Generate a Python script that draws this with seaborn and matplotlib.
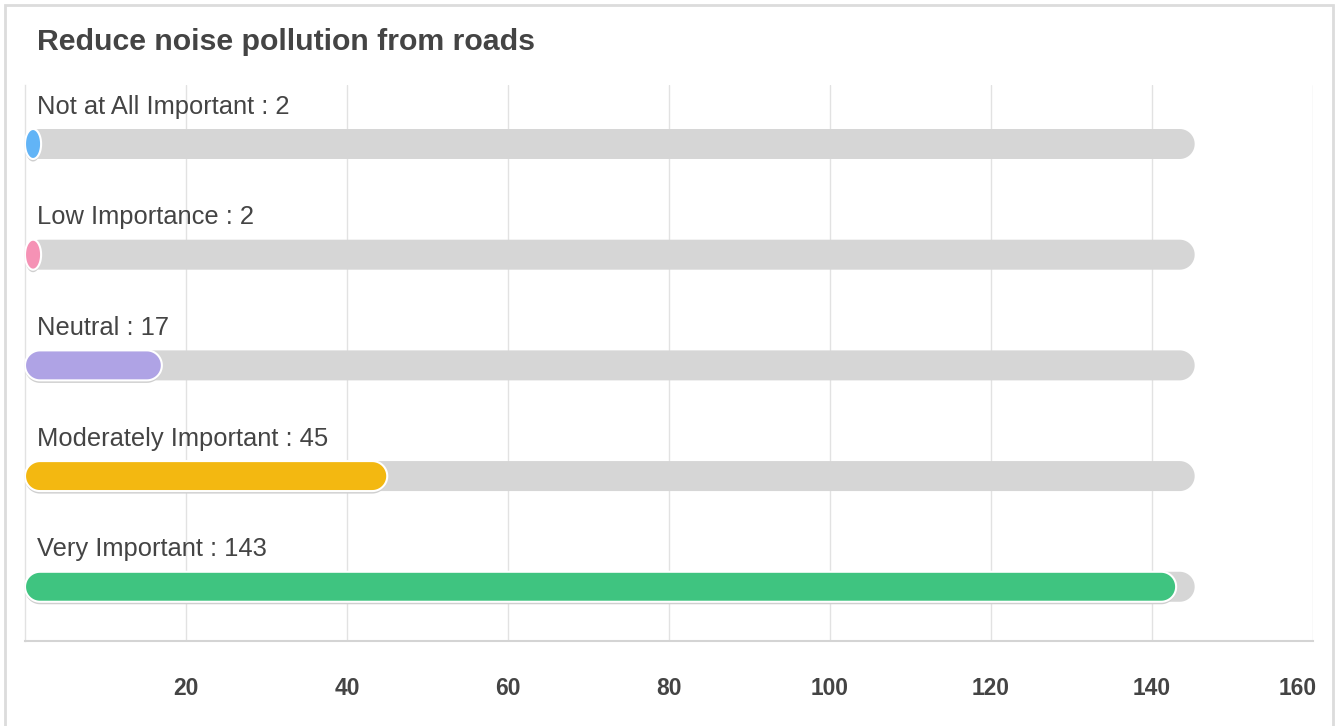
import matplotlib
matplotlib.use("Agg")
import matplotlib.pyplot as plt
import seaborn as sns
import numpy as np
import pandas as pd
from matplotlib.patches import Polygon, Rectangle
import matplotlib.transforms as mtransforms

title = "Reduce noise pollution from roads"
categories = ["Not at All Important", "Low Importance", "Neutral",
              "Moderately Important", "Very Important"]
values = [2, 2, 17, 45, 143]
track_total = [145.3, 145.3, 145.3, 145.3, 145.3]
colors = ["#62b4f6", "#f592b5", "#afa3e5", "#f3b811", "#3fc480"]
track_color = "#d6d6d6"
x_ticks = [20, 40, 60, 80, 100, 120, 140, 160]

sns.set_theme(style="white")
plt.rcParams["font.family"] = ["Liberation Sans", "DejaVu Sans"]

W, H = 1338, 726
fig = plt.figure(figsize=(W / 100, H / 100), dpi=100)
ax = fig.add_axes([25 / W, 1 - 641 / H, (1313 - 25) / W, (641 - 85) / H])

df = pd.DataFrame({"cat": categories, "value": values, "track": track_total})
bar_w = 0.271
sns.barplot(data=df, y="cat", x="track", color=track_color, width=bar_w,
            ax=ax, orient="h", saturation=1)
sns.barplot(data=df, y="cat", x="value", hue="cat", palette=colors,
            width=bar_w, ax=ax, orient="h", legend=False, saturation=1)

ax.set_xlim(0, 160)
ax.set_ylim(4.49, -0.533)

# pixel scale
p0 = ax.transData.transform((0, 0))
px_x = abs(ax.transData.transform((1, 0))[0] - p0[0])
px_y = abs(ax.transData.transform((0, 1))[1] - p0[1])

rects = list(ax.patches)
n = len(categories)
shadow_tr = mtransforms.offset_copy(ax.transData, fig=fig, x=0, y=-2.5, units="dots")
for k, p in enumerate(rects):
    x0, y0, w, h = p.get_x(), p.get_y(), p.get_width(), p.get_height()
    fc = p.get_facecolor()
    p.remove()
    if w <= 0:
        continue
    hh = h / 2
    yc = y0 + hh
    rx = min(hh * px_y / px_x, w / 2)
    t1 = np.linspace(-np.pi / 2, np.pi / 2, 40)
    t2 = np.linspace(np.pi / 2, 3 * np.pi / 2, 40)
    right = np.column_stack([x0 + w - rx + rx * np.cos(t1), yc + hh * np.sin(t1)])
    left = np.column_stack([x0 + rx + rx * np.cos(t2), yc + hh * np.sin(t2)])
    pts = np.vstack([right, left])
    is_track = k < n
    if not is_track:
        ax.add_patch(Polygon(pts, closed=True, facecolor="#cfcfcf", edgecolor="none",
                             transform=shadow_tr, zorder=3))
        ax.add_patch(Polygon(pts, closed=True, facecolor=fc, edgecolor="white",
                             linewidth=1.5, zorder=4))
    else:
        ax.add_patch(Polygon(pts, closed=True, facecolor=fc, edgecolor="none",
                             zorder=2))

for i, (c, v) in enumerate(zip(categories, values)):
    ax.text(1.5, i - 0.275, f"{c} : {v}", fontsize=18.4, color="#444444",
            va="baseline", ha="left", zorder=5)

ax.set_xlabel("")
ax.set_ylabel("")
ax.set_yticks([])
ax.set_xticks(x_ticks)
ax.set_xticklabels([str(t) for t in x_ticks], fontsize=16.4, fontweight="bold",
                   color="#444444")
ax.tick_params(axis="x", length=0, pad=26)
last = ax.xaxis.get_major_ticks()[-1].label1
last.set_ha("right")
last.set_transform(last.get_transform() +
                   mtransforms.ScaledTranslation(4 / 100, 0, fig.dpi_scale_trans))
ax.grid(axis="x", color="#e2e2e2", linewidth=1)
ax.grid(axis="y", visible=False)
ax.set_axisbelow(True)
for s in ["top", "right"]:
    ax.spines[s].set_visible(False)
ax.spines["left"].set_color("#e2e2e2")
ax.spines["left"].set_linewidth(1)
ax.spines["bottom"].set_color("#d4d4d4")
ax.spines["bottom"].set_linewidth(1.5)

fig.text(37 / W, 1 - 42 / H, title, fontsize=21.8, fontweight="bold",
         color="#444444", va="center", ha="left")

fig.add_artist(Rectangle((5 / W, -0.02), (1333 - 5) / W, 1.02 - 5 / H,
                         transform=fig.transFigure, fill=False,
                         edgecolor="#dcdcdc", linewidth=2))

fig.savefig("out.png", dpi=100)
